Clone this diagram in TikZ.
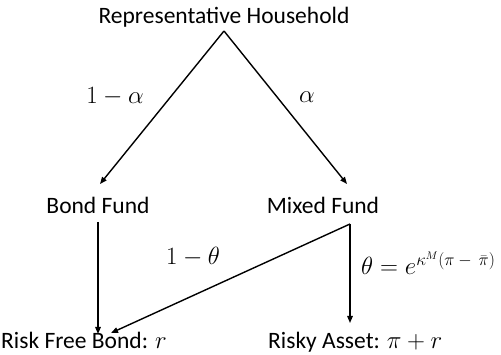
\documentclass[tikz,border=0pt]{standalone}
\usepackage{amsmath}
\usepackage{fontspec}
\setmainfont{Carlito}
\usetikzlibrary{arrows.meta}
\begin{document}
\begin{tikzpicture}[x=1pt,y=-1pt,
  lbl/.style={font=\fontsize{23.5}{26}\selectfont, inner sep=0pt},
  mlbl/.style={font=\fontsize{23}{26}\selectfont, inner sep=0pt},
  conn/.style={line width=1.4pt, -{Triangle[length=7pt,width=5.5pt]}}]
\useasboundingbox (0,0) rectangle (501,355);
\node[lbl] (hh) at (224,17) {Representative Household};
\node[lbl] (bf) at (98,205) {Bond Fund};
\node[lbl] (mf) at (323,205) {Mixed Fund};
\node[lbl, anchor=base west] (rf) at (1,349) {Risk Free Bond: $r$};
\node[lbl, anchor=base west] (ra) at (268,349) {Risky Asset: $\pi+r$};
\coordinate (apex) at (224,31);
\coordinate (bfin) at (100,184);
\coordinate (mfin) at (347,184);
\coordinate (bfout) at (98,222);
\coordinate (rfin) at (98,334);
\coordinate (mfout) at (350,224);
\coordinate (rfin2) at (111,333);
\coordinate (rain) at (350,323);
\draw[conn] (apex) -- (bfin);
\draw[conn] (apex) -- (mfin);
\draw[conn] (bfout) -- (rfin);
\draw[conn] (mfout) -- (rfin2);
\draw[conn] (mfout) -- (rain);
\node[mlbl] (la) at (115,97) {$1-\alpha$};
\node[mlbl] (ra2) at (307,97) {$\alpha$};
\node[mlbl] (lt) at (193,257) {$1-\theta$};
\node[mlbl, anchor=west] (rt) at (361,263) {$\theta=e^{\text{\fontsize{16}{18}\selectfont$\kappa^{M}(\pi-\,\bar{\pi})$}}$};
\end{tikzpicture}
\end{document}
